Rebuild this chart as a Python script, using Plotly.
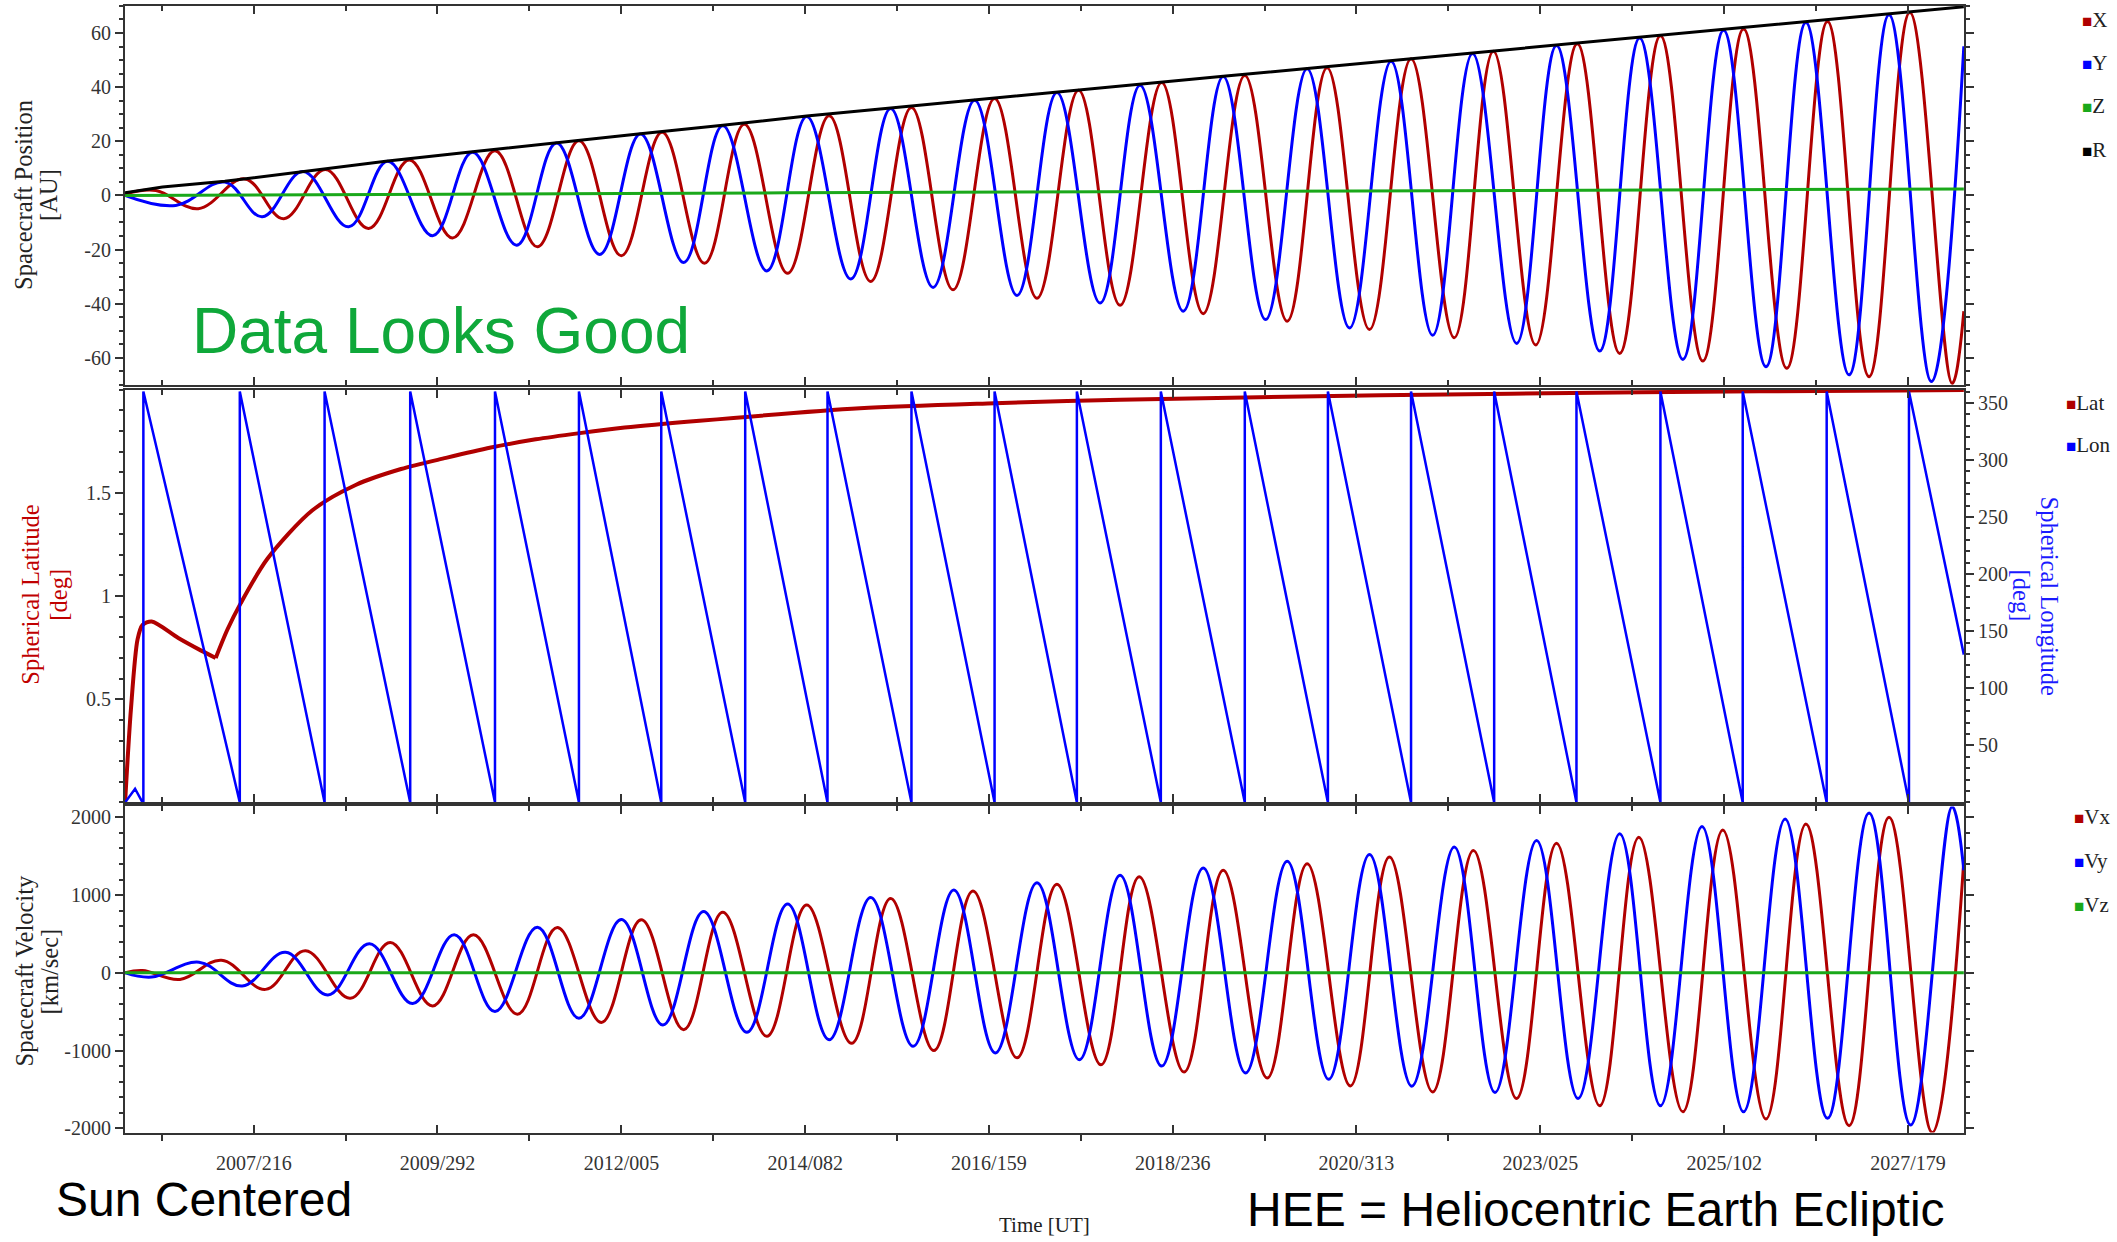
import plotly.graph_objects as go

# ---------------- data (time in decimal years) ----------------
# Top panel: spacecraft position [AU] (extremes)
X_T = [2006.04, 2006.41, 2006.92, 2007.48, 2007.95, 2008.45, 2008.97, 2009.46, 2009.98, 2010.49,
       2011.00, 2011.50, 2012.01, 2012.50, 2013.01, 2013.49, 2014.01, 2014.51, 2015.01, 2015.50,
       2016.00, 2016.50, 2017.01, 2017.51, 2018.01, 2018.51, 2019.01, 2019.51, 2020.02, 2020.50,
       2021.01, 2021.51, 2022.03, 2022.50, 2023.01, 2023.51, 2024.02, 2024.51, 2025.02, 2025.51,
       2026.03, 2026.52, 2027.02, 2027.51, 2028.02, 2028.16]
X_V = [0.5, 1.8, -4.9, 6.1, -8.6, 9.6, -12.2, 13.1, -15.7, 16.5,
       -19.0, 20.2, -22.3, 23.3, -25.1, 26.3, -28.8, 29.4, -31.8, 32.5,
       -34.9, 35.8, -38.0, 38.9, -40.6, 41.7, -43.7, 44.3, -46.5, 47.2,
       -49.6, 50.5, -52.6, 53.3, -55.3, 56.0, -58.4, 59.0, -61.2, 61.5,
       -63.9, 64.3, -67.0, 67.6, -69.5, -42.8]

Y_T = [2006.04, 2006.65, 2007.24, 2007.69, 2008.18, 2008.73, 2009.20, 2009.74, 2010.22, 2010.75,
       2011.23, 2011.75, 2012.24, 2012.76, 2013.23, 2013.76, 2014.24, 2014.77, 2015.25, 2015.76,
       2016.26, 2016.77, 2017.25, 2017.77, 2018.25, 2018.77, 2019.25, 2019.76, 2020.26, 2020.77,
       2021.27, 2021.77, 2022.25, 2022.78, 2023.26, 2023.78, 2024.26, 2024.78, 2025.27, 2025.78,
       2026.26, 2026.78, 2027.26, 2027.77, 2028.16]
Y_V = [0.0, -3.7, 4.9, -7.9, 8.8, -11.6, 12.6, -14.9, 15.9, -18.4,
       19.4, -21.8, 22.7, -24.8, 25.7, -27.9, 29.2, -30.9, 32.1, -34.0,
       35.2, -37.0, 38.0, -39.8, 40.7, -42.8, 43.9, -45.9, 46.8, -49.0,
       49.6, -51.7, 52.4, -54.7, 55.4, -57.5, 58.2, -60.6, 61.0, -63.3,
       63.9, -66.3, 66.8, -68.8, 55.1]

Z_T = [2006.04, 2008.0, 2010.0, 2012.0, 2014.0, 2016.0, 2018.0, 2020.0, 2022.0, 2024.0, 2026.0, 2028.16]
Z_V = [0.0, 0.15, 0.45, 0.70, 0.94, 1.15, 1.37, 1.57, 1.77, 1.98, 2.19, 2.39]

R_T = [2006.04, 2006.49, 2007.24, 2008.18, 2009.20, 2010.22, 2011.23, 2012.24, 2013.23, 2014.24,
       2015.25, 2016.26, 2017.25, 2018.25, 2019.25, 2020.26, 2021.27, 2022.25, 2023.26, 2024.26,
       2025.27, 2026.26, 2027.26, 2028.16]
R_V = [1.0, 3.1, 5.2, 8.9, 12.7, 16.1, 19.5, 22.8, 25.9, 29.3,
       32.3, 35.3, 38.2, 41.0, 44.0, 46.9, 49.8, 52.6, 55.5, 58.3,
       61.2, 64.0, 66.9, 69.7]

# Middle panel: spherical latitude [deg] and longitude [deg]
LAT_T = [2006.04, 2006.11, 2006.19, 2006.25, 2006.36, 2006.68, 2006.95, 2007.13, 2007.27, 2007.43,
         2007.75, 2008.29, 2008.82, 2009.36, 2009.90, 2010.44, 2010.98, 2011.51, 2012.05, 2012.95,
         2014.88, 2016.50, 2018.01, 2021.14, 2024.28, 2027.40, 2028.16]
LAT_V = [0.0, 0.45, 0.79, 0.86, 0.877, 0.797, 0.737, 0.70, 0.837, 0.965,
         1.18, 1.415, 1.54, 1.616, 1.67, 1.72, 1.76, 1.79, 1.817, 1.85,
         1.91, 1.935, 1.952, 1.973, 1.988, 1.997, 1.999]
LAT_CORNER_T = 2007.13   # sharp minimum (Jupiter flyby)

LON_START_T = [2006.04, 2006.16, 2006.25]
LON_START_V = [0.0, 12.0, 0.0]
LON_WRAP_T = [2006.26, 2007.42, 2008.44, 2009.47, 2010.49, 2011.50, 2012.49, 2013.50, 2014.49, 2015.50,
              2016.50, 2017.49, 2018.50, 2019.51, 2020.51, 2021.51, 2022.51, 2023.50, 2024.51, 2025.50,
              2026.51, 2027.50]
LON_MIN, LON_MAX = 0.0, 360.0
LON_END_T, LON_END_V = 2028.16, 129.5

# Bottom panel: spacecraft velocity [km/sec]
VX_T = [2006.04, 2006.25, 2006.70, 2007.20, 2007.73, 2008.21, 2008.75, 2009.23, 2009.74, 2010.23,
        2010.76, 2011.24, 2011.77, 2012.25, 2012.76, 2013.23, 2013.76, 2014.24, 2014.78, 2015.25,
        2015.77, 2016.24, 2016.77, 2017.25, 2017.78, 2018.24, 2018.78, 2019.25, 2019.78, 2020.26,
        2020.78, 2021.25, 2021.77, 2022.26, 2022.78, 2023.26, 2023.78, 2024.25, 2024.78, 2025.26,
        2025.78, 2026.26, 2026.78, 2027.26, 2027.78, 2028.16]
VX_V = [0, 30, -85, 162, -213, 285, -328, 391, -426, 489,
        -532, 583, -638, 681, -732, 779, -817, 872, -906, 957,
        -1000, 1051, -1094, 1140, -1183, 1234, -1277, 1319, -1353, 1404,
        -1455, 1489, -1532, 1574, -1617, 1668, -1710, 1745, -1787, 1838,
        -1881, 1915, -1966, 2000, -2055, 1447]

VY_T = [2006.04, 2006.36, 2006.93, 2007.45, 2007.97, 2008.48, 2008.98, 2009.50, 2010.00, 2010.49,
        2011.00, 2011.50, 2012.01, 2012.51, 2013.00, 2013.52, 2014.01, 2014.51, 2015.01, 2015.52,
        2016.01, 2016.51, 2017.01, 2017.52, 2018.01, 2018.51, 2019.01, 2019.52, 2020.02, 2020.52,
        2021.01, 2021.52, 2022.03, 2022.52, 2023.02, 2023.52, 2024.02, 2024.51, 2025.01, 2025.51,
        2026.01, 2026.52, 2027.02, 2027.52, 2028.02, 2028.16]
VY_V = [0, -55, 136, -170, 264, -285, 374, -396, 489, -498,
        587, -583, 685, -672, 787, -766, 885, -860, 970, -945,
        1064, -1030, 1157, -1119, 1255, -1200, 1349, -1289, 1434, -1370,
        1523, -1459, 1617, -1540, 1702, -1617, 1787, -1710, 1881, -1787,
        1979, -1872, 2055, -1957, 2136, 1319]

VZ_T = [2006.04, 2028.16]
VZ_V = [0.0, 0.0]

# Axis tick labels
TIME_TICK_LABELS = ["2007/216", "2009/292", "2012/005", "2014/082", "2016/159",
                    "2018/236", "2020/313", "2023/025", "2025/102", "2027/179"]
POS_TICKS = [-60, -40, -20, 0, 20, 40, 60]
LAT_TICKS = [0.5, 1, 1.5]
LON_TICKS = [50, 100, 150, 200, 250, 300, 350]
VEL_TICKS = [-2000, -1000, 0, 1000, 2000]

# ---------------- helpers ----------------
def doy_to_year(label):
    y, d = label.split("/")
    y, d = int(y), int(d)
    ndays = 366 if (y % 4 == 0 and (y % 100 != 0 or y % 400 == 0)) else 365
    return y + (d - 1) / ndays


MAJOR = [doy_to_year(s) for s in TIME_TICK_LABELS]
MINOR = [MAJOR[0] - (MAJOR[1] - MAJOR[0]) / 2] + [(a + b) / 2 for a, b in zip(MAJOR[:-1], MAJOR[1:])]

lon_x = list(LON_START_T)
lon_y = list(LON_START_V)
for w in LON_WRAP_T:
    lon_x += [w, w]
    lon_y += [LON_MIN, LON_MAX]
lon_x.append(LON_END_T)
lon_y.append(LON_END_V)

k = LAT_T.index(LAT_CORNER_T)
lat1_x, lat1_y = LAT_T[:k + 1], LAT_V[:k + 1]
lat2_x, lat2_y = LAT_T[k:], LAT_V[k:]

W, H = 2117, 1242
ML, MR = 125, 153
PW = W - ML - MR


def px(xp):
    return (xp - ML) / PW


def py(yp):
    return 1 - yp / H


RED = "#b00000"
BLUE = "#0000ff"
GREEN = "#1aa81a"
BLACK = "#000000"
AX = "#333333"
X_RANGE = [2006.039, 2028.162]

fig = go.Figure()
spl = dict(shape="spline", smoothing=1.1)

fig.add_trace(go.Scatter(x=X_T, y=X_V, name="X", mode="lines", line=dict(color=RED, width=3, **spl), xaxis="x", yaxis="y"))
fig.add_trace(go.Scatter(x=Y_T, y=Y_V, name="Y", mode="lines", line=dict(color=BLUE, width=3, **spl), xaxis="x", yaxis="y"))
fig.add_trace(go.Scatter(x=Z_T, y=Z_V, name="Z", mode="lines", line=dict(color=GREEN, width=3), xaxis="x", yaxis="y"))
fig.add_trace(go.Scatter(x=R_T, y=R_V, name="R", mode="lines", line=dict(color=BLACK, width=3), xaxis="x", yaxis="y"))

fig.add_trace(go.Scatter(x=lat1_x, y=lat1_y, name="Lat", mode="lines", line=dict(color=RED, width=4, shape="spline", smoothing=0.8),
                         xaxis="x2", yaxis="y2"))
fig.add_trace(go.Scatter(x=lat2_x, y=lat2_y, name="Lat", mode="lines", line=dict(color=RED, width=4, shape="spline", smoothing=0.8),
                         xaxis="x2", yaxis="y2", showlegend=False))
fig.add_trace(go.Scatter(x=lon_x, y=lon_y, name="Lon", mode="lines", line=dict(color=BLUE, width=2.5), xaxis="x2", yaxis="y3"))

fig.add_trace(go.Scatter(x=VX_T, y=VX_V, name="Vx", mode="lines", line=dict(color=RED, width=3, **spl), xaxis="x3", yaxis="y4"))
fig.add_trace(go.Scatter(x=VY_T, y=VY_V, name="Vy", mode="lines", line=dict(color=BLUE, width=3, **spl), xaxis="x3", yaxis="y4"))
fig.add_trace(go.Scatter(x=VZ_T, y=VZ_V, name="Vz", mode="lines", line=dict(color=GREEN, width=3), xaxis="x3", yaxis="y4"))
# carrier for the top-edge tick axis of the bottom panel
fig.add_trace(go.Scatter(x=[X_RANGE[0]], y=[0], mode="markers", marker=dict(opacity=0), hoverinfo="skip",
                         showlegend=False, xaxis="x4", yaxis="y4"))

tickfont = dict(family="Liberation Serif", size=20, color=AX)
base = dict(showline=True, linecolor=AX, linewidth=2, showgrid=False, zeroline=False,
            tickcolor=AX, tickwidth=1.5, tickfont=tickfont)

D_TOP = [py(387), py(6)]
D_MID = [py(807), py(392)]
D_BOT = [py(1139), py(811)]

xcommon = dict(base, range=X_RANGE, tickmode="array", tickvals=MAJOR, ticktext=TIME_TICK_LABELS,
               ticks="inside", ticklen=8,
               minor=dict(tickmode="array", tickvals=MINOR, ticks="inside", ticklen=5, tickcolor=AX, tickwidth=1.5))

fig.update_layout(
    width=W, height=H,
    margin=dict(l=ML, r=MR, t=0, b=0),
    paper_bgcolor="white", plot_bgcolor="white",
    showlegend=False,
    font=dict(family="Liberation Serif", color=AX),
    xaxis=dict(xcommon, domain=[0, 1], anchor="y", mirror="ticks", showticklabels=False),
    xaxis2=dict(xcommon, domain=[0, 1], anchor="y2", mirror="ticks", showticklabels=False),
    xaxis3=dict(xcommon, domain=[0, 1], anchor="y4", mirror=False, showticklabels=True,
                ticklabelstandoff=11,
                minor=dict(tickmode="array", tickvals=MINOR, ticks="outside", ticklen=6, tickcolor=AX, tickwidth=1.5)),
    xaxis4=dict(xcommon, overlaying="x3", side="top", anchor="y4", showticklabels=False),
    yaxis=dict(base, domain=D_TOP, anchor="x", range=[-70, 70], mirror="ticks",
               tickmode="array", tickvals=POS_TICKS, ticktext=[str(v) for v in POS_TICKS],
               ticks="outside", ticklen=8,
               minor=dict(dtick=5, tick0=0, ticks="outside", ticklen=4, tickcolor=AX, tickwidth=1.5)),
    yaxis2=dict(base, domain=D_MID, anchor="x2", range=[0, 2],
                tickmode="array", tickvals=LAT_TICKS, ticktext=["0.5", "1", "1.5"],
                ticks="outside", ticklen=8,
                minor=dict(dtick=0.1, tick0=0, ticks="outside", ticklen=4, tickcolor=AX, tickwidth=1.5)),
    yaxis3=dict(base, overlaying="y2", side="right", anchor="x2", range=[0, 361.5],
                tickmode="array", tickvals=LON_TICKS, ticktext=[str(v) for v in LON_TICKS],
                ticks="outside", ticklen=8,
                minor=dict(dtick=10, tick0=0, ticks="outside", ticklen=4, tickcolor=AX, tickwidth=1.5)),
    yaxis4=dict(base, domain=D_BOT, anchor="x3", range=[-2055, 2140], mirror="ticks",
                tickmode="array", tickvals=VEL_TICKS, ticktext=[str(v) for v in VEL_TICKS],
                ticks="outside", ticklen=8,
                minor=dict(dtick=200, tick0=0, ticks="outside", ticklen=4, tickcolor=AX, tickwidth=1.5)),
)

ann = []


def add_text(text, xp, yp, size, color, family="Liberation Serif", angle=0, xanchor="center"):
    ann.append(dict(text=text, x=px(xp), y=py(yp), xref="paper", yref="paper", showarrow=False,
                    xanchor=xanchor, yanchor="middle", textangle=angle,
                    font=dict(family=family, size=size, color=color)))


# axis titles (each line placed separately to match the tight line spacing)
TS = 24.5
add_text("Spacecraft Position", 24, 196, TS, "#222222", angle=-90)
add_text("[AU]", 49, 196, TS, "#222222", angle=-90)
add_text("Spherical Latitude", 31, 598, TS, "#c00000", angle=-90)
add_text("[deg]", 59, 598, TS, "#c00000", angle=-90)
add_text("Spherical Longitude", 2049, 599, TS, "#1a1aff", angle=90)
add_text("[deg]", 2021, 599, TS, "#1a1aff", angle=90)
add_text("Spacecraft Velocity", 24, 977, TS, "#222222", angle=-90)
add_text("[km/sec]", 49, 977, TS, "#222222", angle=-90)
add_text("Time [UT]", 1044, 1232, 21, "#222222")


# legends
def sq(color):
    return '<span style="color:%s;font-size:17px">\u25a0</span>' % color


LEG = 21
for name, color, yp in [("X", RED, 20), ("Y", BLUE, 63), ("Z", GREEN, 107), ("R", BLACK, 151)]:
    add_text(sq(color) + name, 2080, yp, LEG, "#222222", xanchor="left")
for name, color, yp in [("Lat", RED, 405), ("Lon", BLUE, 448)]:
    add_text(sq(color) + name, 2064, yp, LEG, "#222222", xanchor="left")
for name, color, yp in [("Vx", RED, 822), ("Vy", BLUE, 866), ("Vz", GREEN, 910)]:
    add_text(sq(color) + name, 2072, yp, LEG, "#222222", xanchor="left")

# overlay labels
add_text("Data Looks Good", 190, 333, 64, "#0fa83a", family="Liberation Sans", xanchor="left")
add_text("Sun Centered", 54, 1206, 48, "#000000", family="Liberation Sans", xanchor="left")
add_text("HEE = Heliocentric Earth Ecliptic", 1245, 1216, 48, "#000000", family="Liberation Sans", xanchor="left")

fig.update_layout(annotations=ann)

fig.write_html("out.html")
